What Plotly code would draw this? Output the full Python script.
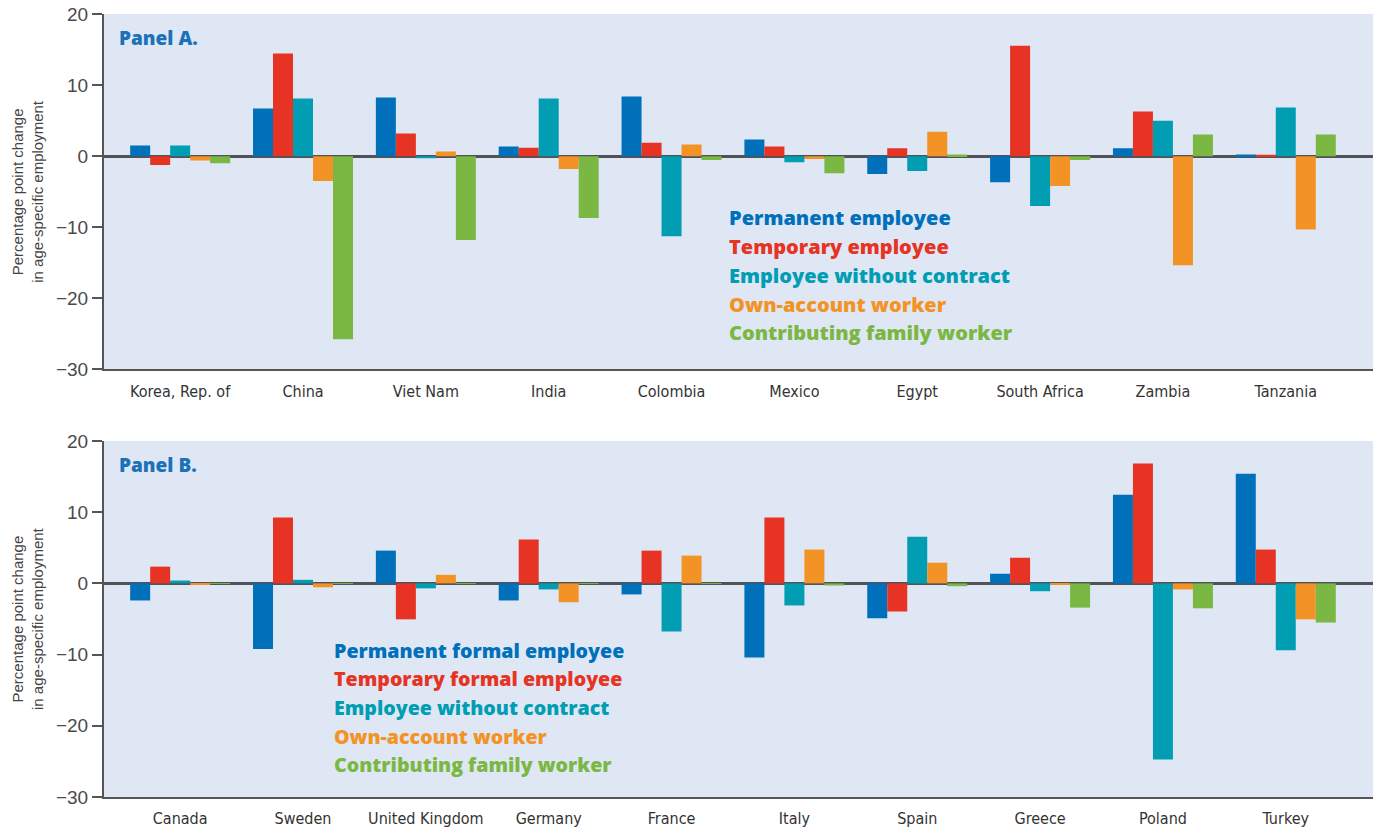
import plotly.graph_objects as go

# Panel A: developing / emerging economies
countries_a = ["Korea, Rep. of", "China", "Viet Nam", "India", "Colombia",
               "Mexico", "Egypt", "South Africa", "Zambia", "Tanzania"]
series_a = ["Permanent employee", "Temporary employee", "Employee without contract",
            "Own-account worker", "Contributing family worker"]
permanent_a = [1.5, 6.7, 8.25, 1.35, 8.4, 2.35, -2.5, -3.65, 1.1, 0.25]
temporary_a = [-1.25, 14.45, 3.2, 1.2, 1.9, 1.35, 1.1, 15.55, 6.3, 0.2]
no_contract_a = [1.5, 8.1, -0.3, 8.1, -11.25, -0.85, -2.1, -7.0, 5.0, 6.85]
own_account_a = [-0.6, -3.5, 0.65, -1.8, 1.65, -0.4, 3.45, -4.2, -15.35, -10.3]
family_a = [-1.0, -25.75, -11.8, -8.7, -0.55, -2.4, 0.25, -0.55, 3.05, 3.05]

# Panel B: European economies and Turkey
countries_b = ["Canada", "Sweden", "United Kingdom", "Germany", "France",
               "Italy", "Spain", "Greece", "Poland", "Turkey"]
series_b = ["Permanent formal employee", "Temporary formal employee",
            "Employee without contract", "Own-account worker", "Contributing family worker"]
permanent_b = [-2.4, -9.2, 4.6, -2.4, -1.55, -10.4, -4.9, 1.35, 12.45, 15.4]
temporary_b = [2.35, 9.25, -5.05, 6.15, 4.6, 9.25, -3.95, 3.6, 16.85, 4.75]
no_contract_b = [0.4, 0.5, -0.7, -0.85, -6.75, -3.1, 6.55, -1.1, -24.75, -9.4]
own_account_b = [-0.15, -0.55, 1.2, -2.65, 3.9, 4.75, 2.9, -0.15, -0.85, -5.05]
family_b = [0.05, 0.05, 0.05, 0.05, 0.05, -0.3, -0.4, -3.4, -3.5, -5.5]

y_ticks = [20, 10, 0, -10, -20, -30]

colors = ["#0070BA", "#E63323", "#009DB3", "#F39325", "#7AB743"]
bg = "#DFE7F5"
axis_col = "#555555"
panel_blue = "#1B72B8"

fig = go.Figure()

for vals, name, col in zip([permanent_a, temporary_a, no_contract_a, own_account_a, family_a],
                           series_a, colors):
    fig.add_trace(go.Bar(x=countries_a, y=vals, name=name, marker=dict(color=col, line=dict(width=0)),
                         xaxis="x", yaxis="y", showlegend=False))

for vals, name, col in zip([permanent_b, temporary_b, no_contract_b, own_account_b, family_b],
                           series_b, colors):
    fig.add_trace(go.Bar(x=countries_b, y=vals, name=name, marker=dict(color=col, line=dict(width=0)),
                         xaxis="x2", yaxis="y2", showlegend=False))

tick_font = dict(family="Liberation Sans, Arial, sans-serif", size=19, color="#4a4a4a")
cat_font = dict(family="Liberation Sans Narrow, DejaVu Sans Condensed, sans-serif",
                size=16, color="#333333")

yaxis_common = dict(
    range=[-30, 20], tickvals=y_ticks, ticks="outside", ticklen=10, tickwidth=1.5,
    tickcolor=axis_col, showline=True, linecolor=axis_col, linewidth=2,
    showgrid=False, zeroline=True, zerolinecolor="rgba(65,65,70,0.9)", zerolinewidth=2.5,
    tickfont=tick_font, layer="above traces", fixedrange=True,
)
xaxis_common = dict(
    range=[-0.62, 9.71], showline=True, linecolor=axis_col, linewidth=2, ticks="",
    showgrid=False, tickfont=cat_font, layer="above traces", fixedrange=True,
    ticklabelstandoff=6,
)

fig.update_layout(
    width=1373, height=827,
    margin=dict(l=104, r=0, t=14, b=30),
    paper_bgcolor="white", plot_bgcolor=bg,
    barmode="group", bargap=0.186, bargroupgap=0,
    xaxis=dict(domain=[0, 1], anchor="y", **xaxis_common),
    yaxis=dict(domain=[0.546, 1], anchor="x", **yaxis_common),
    xaxis2=dict(domain=[0, 1], anchor="y2", **xaxis_common),
    yaxis2=dict(domain=[0, 0.4547], anchor="x2", **yaxis_common),
)

annotations = []
y_title = "Percentage point change<br>in age-specific employment"
for yd in ["y domain", "y2 domain"]:
    annotations.append(dict(
        text=y_title, xref="paper", yref=yd, x=0, y=0.5, xshift=-76,
        xanchor="center", yanchor="middle", textangle=-90, showarrow=False,
        font=dict(family="Liberation Sans, Arial, sans-serif", size=15, color="#444444"),
        align="center"))

for yd, label in [("y domain", "Panel A."), ("y2 domain", "Panel B.")]:
    annotations.append(dict(
        text=label, xref="paper", yref=yd, x=0, y=1,
        xshift=13, yshift=-9, xanchor="left", yanchor="top", showarrow=False,
        font=dict(family="Open Sans, Roboto, sans-serif", size=19, color=panel_blue, weight=800)))

legend_font = "Open Sans, Roboto, Liberation Sans, sans-serif"
for i, (name, col) in enumerate(zip(series_a, colors)):
    annotations.append(dict(
        text=name, xref="paper", yref="paper",
        x=(727 - 104) / 1269, y=(827 - 30 - (218 + 28.7 * i)) / 783,
        xanchor="left", yanchor="middle", showarrow=False,
        font=dict(family=legend_font, size=20, color=col, weight=800)))
for i, (name, col) in enumerate(zip(series_b, colors)):
    annotations.append(dict(
        text=name, xref="paper", yref="paper",
        x=(332 - 104) / 1269, y=(827 - 30 - (650 + 28.7 * i)) / 783,
        xanchor="left", yanchor="middle", showarrow=False,
        font=dict(family=legend_font, size=19.6, color=col, weight=800)))

fig.update_layout(annotations=annotations)

fig.write_html("out.html")
